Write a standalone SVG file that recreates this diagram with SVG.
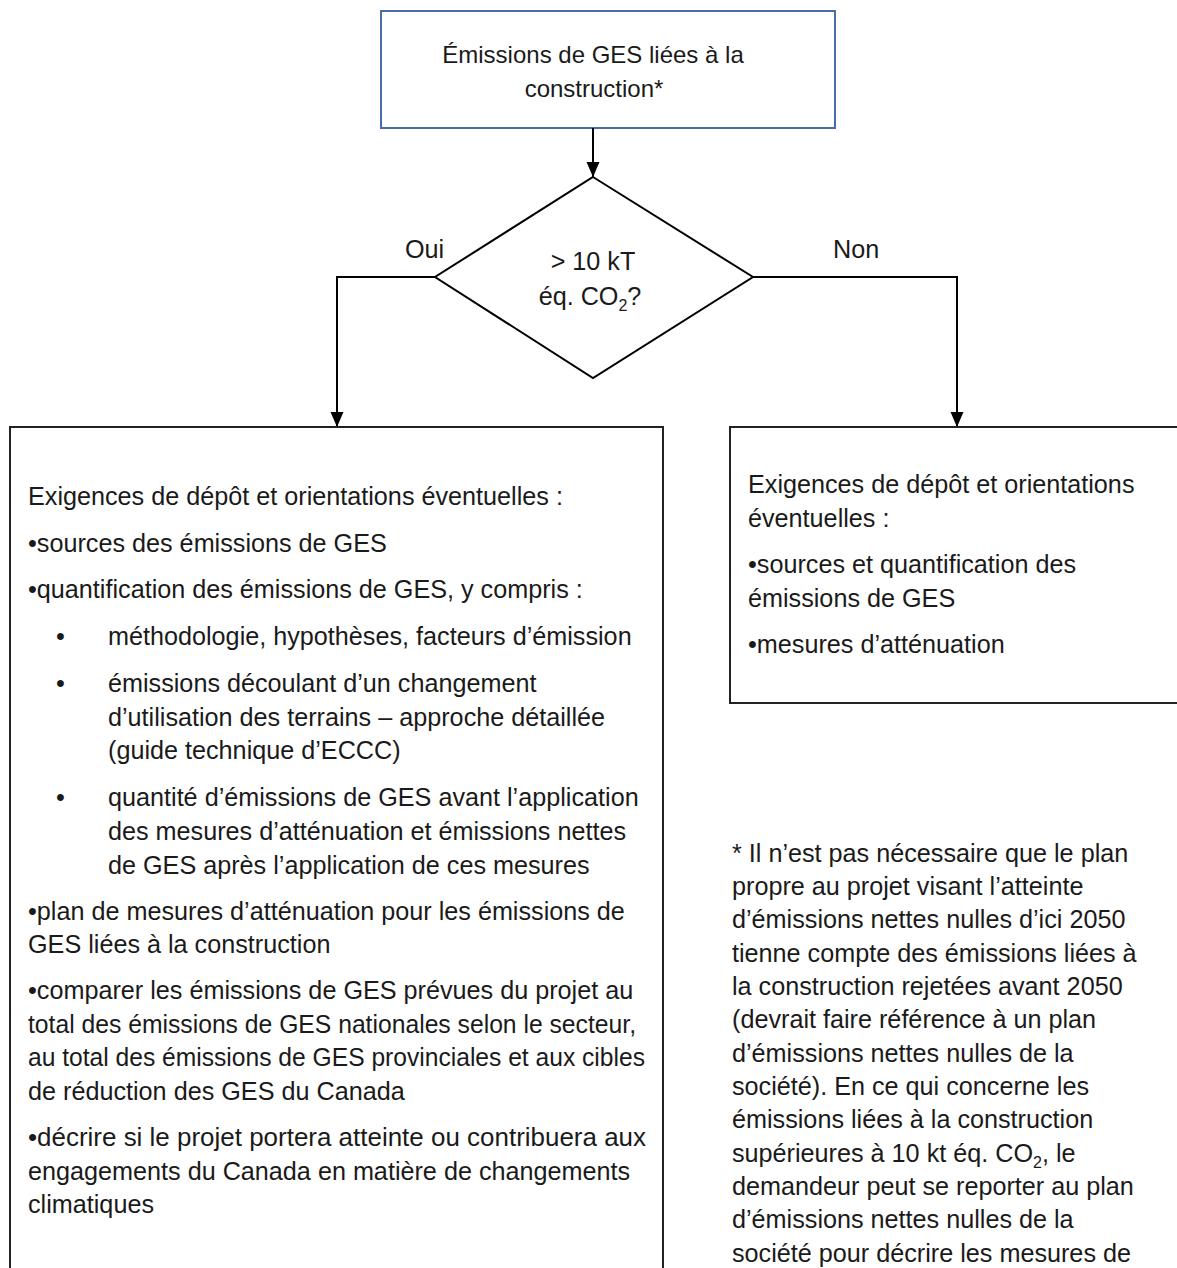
<svg xmlns="http://www.w3.org/2000/svg" width="1177" height="1268" viewBox="0 0 1177 1268">
<defs>
<marker id="arr" markerUnits="userSpaceOnUse" markerWidth="16" markerHeight="16" viewBox="0 0 16 16" refX="15" refY="8" orient="auto">
<path d="M0,1.5 L15,8 L0,14.5 Z" fill="#000"/>
</marker>
<style>
text{font-family:"Liberation Sans",Arial,sans-serif;fill:#1a1a1a;font-size:25.2px}
.t{font-size:24px}
.box{fill:#fff;stroke:#222;stroke-width:2}
.conn{fill:none;stroke:#000;stroke-width:2;marker-end:url(#arr)}
.c{text-anchor:middle}
</style>
</defs>
<rect x="0" y="0" width="1177" height="1268" fill="#fff"/>

<g id="start">
<rect x="381" y="11" width="454" height="117" fill="#fff" stroke="#4a6cae" stroke-width="2"/>
<text class="t c" x="593" y="63">Émissions de GES liées à la</text>
<text class="t c" x="594" y="97">construction*</text>
</g>

<g id="decision">
<polygon points="593,177 753,277 593,378 435,277" fill="#fff" stroke="#000" stroke-width="2"/>
<text class="c" x="593" y="270">&gt; 10 kT</text>
<text class="c" x="590" y="305">éq. CO<tspan font-size="16" dy="6">2</tspan><tspan dy="-6">?</tspan></text>
</g>

<g id="connectors">
<path class="conn" d="M593,128 V177"/>
<path class="conn" d="M435,277 H337 V427"/>
<path class="conn" d="M753,277 H957 V427"/>
<text x="405" y="258">Oui</text>
<text x="833" y="258">Non</text>
</g>

<g id="oui-box">
<rect class="box" x="10" y="427" width="653" height="900"/>
<text x="28" y="505">Exigences de dépôt et orientations éventuelles :</text>
<text x="28" y="552">•sources des émissions de GES</text>
<text x="28" y="598">•quantification des émissions de GES, y compris :</text>
<text x="56" y="645">•</text>
<text x="108" y="645">méthodologie, hypothèses, facteurs d’émission</text>
<text x="56" y="692">•</text>
<text x="108" y="692">émissions découlant d’un changement</text>
<text x="108" y="726">d’utilisation des terrains – approche détaillée</text>
<text x="108" y="759">(guide technique d’ECCC)</text>
<text x="56" y="806">•</text>
<text x="108" y="806">quantité d’émissions de GES avant l’application</text>
<text x="108" y="840">des mesures d’atténuation et émissions nettes</text>
<text x="108" y="874">de GES après l’application de ces mesures</text>
<text x="28" y="920">•plan de mesures d’atténuation pour les émissions de</text>
<text x="28" y="953">GES liées à la construction</text>
<text x="28" y="999">•comparer les émissions de GES prévues du projet au</text>
<text x="28" y="1033" textLength="608" lengthAdjust="spacingAndGlyphs">total des émissions de GES nationales selon le secteur,</text>
<text x="28" y="1066" textLength="617" lengthAdjust="spacingAndGlyphs">au total des émissions de GES provinciales et aux cibles</text>
<text x="28" y="1100">de réduction des GES du Canada</text>
<text x="28" y="1146" textLength="618" lengthAdjust="spacingAndGlyphs">•décrire si le projet portera atteinte ou contribuera aux</text>
<text x="28" y="1180">engagements du Canada en matière de changements</text>
<text x="28" y="1213">climatiques</text>
</g>

<g id="non-box">
<rect class="box" x="730" y="427" width="500" height="276"/>
<text x="748" y="493">Exigences de dépôt et orientations</text>
<text x="748" y="527">éventuelles :</text>
<text x="748" y="573">•sources et quantification des</text>
<text x="748" y="607">émissions de GES</text>
<text x="748" y="653">•mesures d’atténuation</text>
</g>

<g id="footnote">
<text x="732" y="862">* Il n’est pas nécessaire que le plan</text>
<text x="732" y="895">propre au projet visant l’atteinte</text>
<text x="732" y="928">d’émissions nettes nulles d’ici 2050</text>
<text x="732" y="962">tienne compte des émissions liées à</text>
<text x="732" y="995">la construction rejetées avant 2050</text>
<text x="732" y="1028">(devrait faire référence à un plan</text>
<text x="732" y="1062">d’émissions nettes nulles de la</text>
<text x="732" y="1095">société). En ce qui concerne les</text>
<text x="732" y="1128">émissions liées à la construction</text>
<text x="732" y="1162">supérieures à 10 kt éq. CO<tspan font-size="16" dy="6">2</tspan><tspan dy="-6">, le</tspan></text>
<text x="732" y="1195">demandeur peut se reporter au plan</text>
<text x="732" y="1228">d’émissions nettes nulles de la</text>
<text x="732" y="1262">société pour décrire les mesures de</text>
</g>
</svg>
